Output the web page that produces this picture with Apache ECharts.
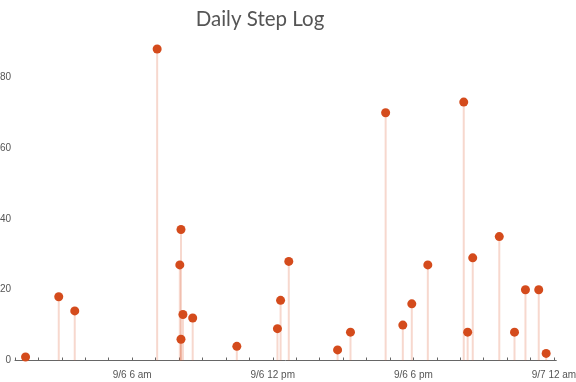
<!DOCTYPE html>
<html>
<head>
<meta charset="utf-8">
<script src="https://cdn.jsdelivr.net/npm/echarts@6/dist/echarts.min.js"></script>
<style>html,body{margin:0;padding:0;background:#fff}#c{width:576px;height:382px}</style>
</head>
<body>
<div id="c"></div>
<script>
const titleText = "Daily Step Log";
const times = ["01:27","02:52","03:33","07:04","08:02","08:05","08:05","08:10","08:35","10:28","12:12","12:20","12:41","14:46","15:19","16:49","17:33","17:56","18:37","20:09","20:19","20:32","21:40","22:19","22:47","23:21","23:40"];
const steps = [1,18,14,88,27,37,6,13,12,4,9,17,28,3,8,70,10,16,27,73,8,29,35,8,20,20,2];
const xTickHours = [1,2,3,4,5,6,7,8,9,10,11,12,13,14,15,16,17,18,19,20,21,22,23,24];
const xLabelHours = [6,12,18,24];
const xLabelTexts = ["9/6 6 am","9/6 12 pm","9/6 6 pm","9/7 12 am"];
const yTicks = [0,20,40,60,80];

function toHours(t){ const p=t.split(":"); return +p[0] + (+p[1])/60; }
const pts = times.map((t,i)=>[toHours(t), steps[i]]);

const chart = echarts.init(document.getElementById('c'), null, {renderer:'canvas'});
chart.setOption({
  animation:false,
  backgroundColor:'#fff',
  title:{text:titleText,left:255,top:4,textAlign:'center',
    textStyle:{fontFamily:'Lato',fontSize:20.5,fontWeight:'normal',color:'#555'}},
  grid:{left:15,right:19.7,top:41.9,bottom:21.5,outerBoundsMode:'none'},
  xAxis:{type:'value',min:1,max:24.1,interval:1,offset:4.5,
    splitLine:{show:false},
    axisLine:{show:true,lineStyle:{color:'#666',width:1}},
    axisTick:{show:true,inside:true,length:3,customValues:xTickHours,lineStyle:{color:'#666'}},
    axisLabel:{customValues:xLabelHours,margin:5,color:'#555',fontSize:10,fontFamily:'Liberation Sans',
      formatter:v=>{const i=xLabelHours.indexOf(Math.round(v)); return i>=0?xLabelTexts[i]:'';}}},
  yAxis:{type:'value',min:0,max:90,interval:20,
    splitLine:{show:false},axisLine:{show:false},axisTick:{show:false},
    axisLabel:{customValues:yTicks,margin:4,color:'#555',fontSize:10,fontFamily:'Liberation Sans'}},
  series:[
    {type:'bar',data:pts,barWidth:2,itemStyle:{color:'rgba(222,90,50,0.24)'},silent:true},
    {type:'scatter',data:pts,symbolSize:9,itemStyle:{color:'#d44b1c',opacity:1}}
  ]
});
</script>
</body>
</html>
